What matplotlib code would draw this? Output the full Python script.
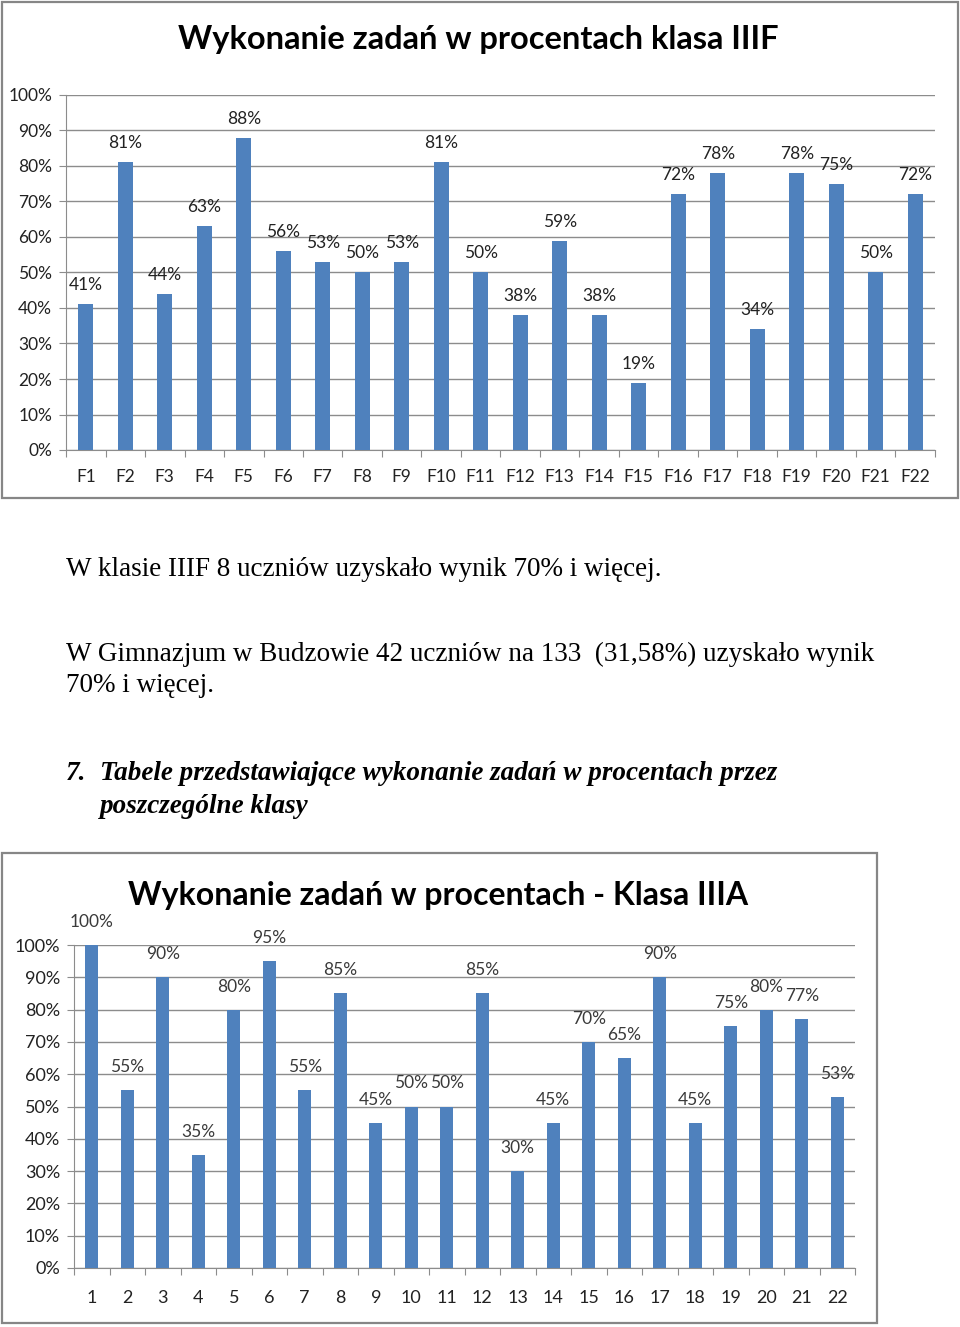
import matplotlib.pyplot as plt
from matplotlib.patches import Rectangle
from matplotlib.ticker import FixedLocator, NullFormatter

W, H = 960, 1327

# data
tasks_f = ['F%d' % i for i in range(1, 23)]
vals_f = [41, 81, 44, 63, 88, 56, 53, 50, 53, 81, 50, 38, 59, 38, 19, 72, 78, 34, 78, 75, 50, 72]
tasks_a = [str(i) for i in range(1, 23)]
vals_a = [100, 55, 90, 35, 80, 95, 55, 85, 45, 50, 50, 85, 30, 45, 70, 65, 90, 45, 75, 80, 77, 53]
yticks = [0, 10, 20, 30, 40, 50, 60, 70, 80, 90, 100]

title_f = 'Wykonanie zadań w procentach klasa IIIF'
title_a = 'Wykonanie zadań w procentach - Klasa IIIA'
line1 = 'W klasie IIIF 8 uczniów uzyskało wynik 70% i więcej.'
line2 = 'W Gimnazjum w Budzowie 42 uczniów na 133  (31,58%) uzyskało wynik'
line3 = '70% i więcej.'
head1 = 'Tabele przedstawiające wykonanie zadań w procentach przez'
head2 = 'poszczególne klasy'

BLUE = '#4f81bd'
GRID = '#8c8c8c'

fig = plt.figure(figsize=(W / 100, H / 100), dpi=100)


def px_axes(x0, y0, x1, y1):
    # pixel box (top-left origin) -> figure fraction
    return fig.add_axes([x0 / W, 1 - y1 / H, (x1 - x0) / W, (y1 - y0) / H])


def frame(x0, y0, x1, y1):
    fig.patches.append(Rectangle((x0 / W, 1 - y1 / H), (x1 - x0) / W, (y1 - y0) / H,
                                 transform=fig.transFigure, fill=False,
                                 edgecolor='#868686', linewidth=1.6))


def bar_chart(ax, cats, vals, lab_size, tick_size, lab_color, lab_off, xpad):
    x = list(range(len(cats)))
    ax.bar(x, vals, width=0.38, color=BLUE, zorder=3)
    ax.set_xlim(-0.5, len(cats) - 0.5)
    ax.set_ylim(0, 100)
    ax.set_yticks(yticks)
    ax.set_yticklabels(['%d%%' % t for t in yticks], fontsize=tick_size,
                       family='Lato', color='#222222')
    ax.xaxis.set_major_locator(FixedLocator([i - 0.5 for i in range(len(cats) + 1)]))
    ax.xaxis.set_major_formatter(NullFormatter())
    ax.xaxis.set_minor_locator(FixedLocator(x))
    ax.set_xticklabels(cats, minor=True, fontsize=tick_size, family='Lato', color='#222222')
    ax.tick_params(axis='x', which='major', length=5, color=GRID, direction='out')
    ax.tick_params(axis='x', which='minor', length=0, pad=xpad)
    ax.tick_params(axis='y', length=5, color=GRID, pad=5)
    ax.grid(axis='y', color=GRID, linewidth=1, zorder=0)
    for s in ['top', 'right']:
        ax.spines[s].set_visible(False)
    ax.spines['left'].set_color(GRID)
    ax.spines['bottom'].set_color(GRID)
    for xi, v in zip(x, vals):
        ax.annotate('%d%%' % v, (xi, v), xytext=(0, lab_off), textcoords='offset pixels',
                    ha='center', va='center', fontsize=lab_size, family='Lato',
                    color=lab_color)


# chart 1
frame(2, 2, 958, 498)
ax1 = px_axes(66, 95, 935, 450)
bar_chart(ax1, tasks_f, vals_f, 12.5, 12.5, '#222222', 19, 14)
fig.text(478 / W, 1 - 40 / H, title_f, ha='center', va='center', fontsize=23.5,
         family='Lato', fontweight='bold')

# text
TS = 19.5
fig.text(66 / W, 1 - 570 / H, line1, ha='left', va='center', fontsize=TS, family='Liberation Serif')
fig.text(66 / W, 1 - 654 / H, line2, ha='left', va='center', fontsize=TS, family='Liberation Serif')
fig.text(66 / W, 1 - 686 / H, line3, ha='left', va='center', fontsize=TS, family='Liberation Serif')
fig.text(66 / W, 1 - 774 / H, '7.', ha='left', va='center', fontsize=TS,
         family='Liberation Serif', fontweight='bold', style='italic')
fig.text(100 / W, 1 - 774 / H, head1, ha='left', va='center', fontsize=TS,
         family='Liberation Serif', fontweight='bold', style='italic')
fig.text(100 / W, 1 - 806 / H, head2, ha='left', va='center', fontsize=TS,
         family='Liberation Serif', fontweight='bold', style='italic')

# chart 2
frame(2, 853, 877, 1323)
ax2 = px_axes(74, 945, 855, 1268)
bar_chart(ax2, tasks_a, vals_a, 12.5, 13, '#3a3a3a', 23, 16)
fig.text(438 / W, 1 - 895 / H, title_a, ha='center', va='center', fontsize=23,
         family='Lato', fontweight='bold')

fig.savefig('out.png', dpi=100)
